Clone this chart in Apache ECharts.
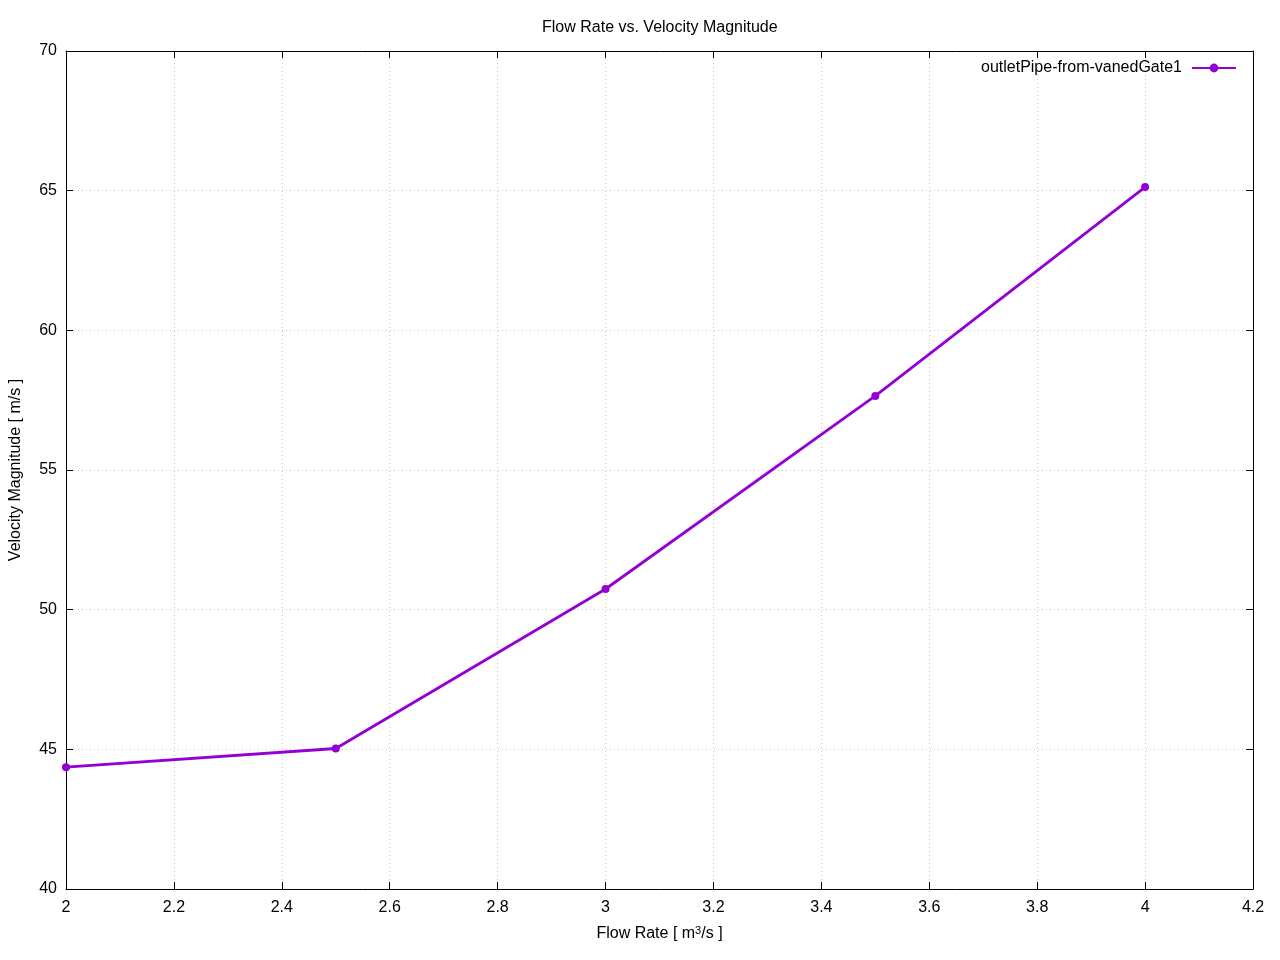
<!DOCTYPE html>
<html>
<head>
<meta charset="utf-8">
<script src="https://cdn.jsdelivr.net/npm/echarts@6/dist/echarts.min.js"></script>
<style>
html,body{margin:0;padding:0;background:#fff;}
#c{width:1280px;height:960px;}
</style>
</head>
<body>
<div id="c"></div>
<script>
const flowRate = [2, 2.5, 3, 3.5, 4];
const velocity = [44.36, 45.03, 50.74, 57.65, 65.13];
const seriesName = 'outletPipe-from-vanedGate1';
const titleText = 'Flow Rate vs. Velocity Magnitude';

const chart = echarts.init(document.getElementById('c'));
const font = 'Liberation Sans, Arial, sans-serif';
const axisLineStyle = {show: true, lineStyle: {color: '#000', width: 1}};
const gridLine = {show: true, lineStyle: {color: '#c8c8c8', width: 1, type: [1, 3]}};

chart.setOption({
  animation: false,
  backgroundColor: '#fff',
  title: {
    text: titleText, left: 537, top: 15,
    textStyle: {fontFamily: font, fontSize: 16, fontWeight: 'normal', color: '#000'}
  },
  legend: {
    right: 38, top: 55, align: 'right',
    itemWidth: 44, itemHeight: 11, itemGap: 10,
    textStyle: {fontFamily: font, fontSize: 16, color: '#000', padding: [0, 5, 0, 0]},
    data: [seriesName]
  },
  grid: {left: 66, right: 27, top: 51, bottom: 71, containLabel: false, outerBoundsMode: 'none'},
  xAxis: [{
    type: 'value', min: 2, max: 4.2, interval: 0.2,
    name: '{n|Flow Rate [ m}{s|3}{n|/s ]}',
    nameLocation: 'middle', nameGap: 36,
    nameTextStyle: {rich: {
      n: {fontFamily: font, fontSize: 16, color: '#000'},
      s: {fontFamily: font, fontSize: 11, color: '#000', verticalAlign: 'top', padding: [0,0,7,0]}
    }},
    axisLine: axisLineStyle,
    axisTick: {show: true, inside: true, length: 7, lineStyle: {color: '#000'}},
    axisLabel: {fontFamily: font, fontSize: 16, color: '#000', margin: 11,
      formatter: v => String(Math.round(v * 10) / 10)},
    splitLine: gridLine
  }, {
    type: 'value', position: 'top', min: 2, max: 4.2, interval: 0.2,
    axisLine: axisLineStyle,
    axisTick: {show: true, inside: true, length: 7, lineStyle: {color: '#000'}},
    axisLabel: {show: false}, splitLine: {show: false}
  }],
  yAxis: [{
    type: 'value', min: 40, max: 70, interval: 5,
    name: 'Velocity Magnitude [ m/s ]',
    nameLocation: 'middle', nameGap: 42,
    nameTextStyle: {fontFamily: font, fontSize: 16, color: '#000'},
    axisLine: axisLineStyle,
    axisTick: {show: true, inside: true, length: 7, lineStyle: {color: '#000'}},
    axisLabel: {fontFamily: font, fontSize: 16, color: '#000', margin: 9},
    splitLine: gridLine
  }, {
    type: 'value', position: 'right', min: 40, max: 70, interval: 5,
    axisLine: axisLineStyle,
    axisTick: {show: true, inside: true, length: 7, lineStyle: {color: '#000'}},
    axisLabel: {show: false}, splitLine: {show: false}
  }],
  series: [{
    name: seriesName, type: 'line',
    xAxisIndex: 0, yAxisIndex: 0,
    data: flowRate.map((x, i) => [x, velocity[i]]),
    symbol: 'circle', symbolSize: 8,
    itemStyle: {color: '#9400d3'},
    lineStyle: {color: '#9400d3', width: 2.8},
    clip: false
  }]
});
</script>
</body>
</html>
